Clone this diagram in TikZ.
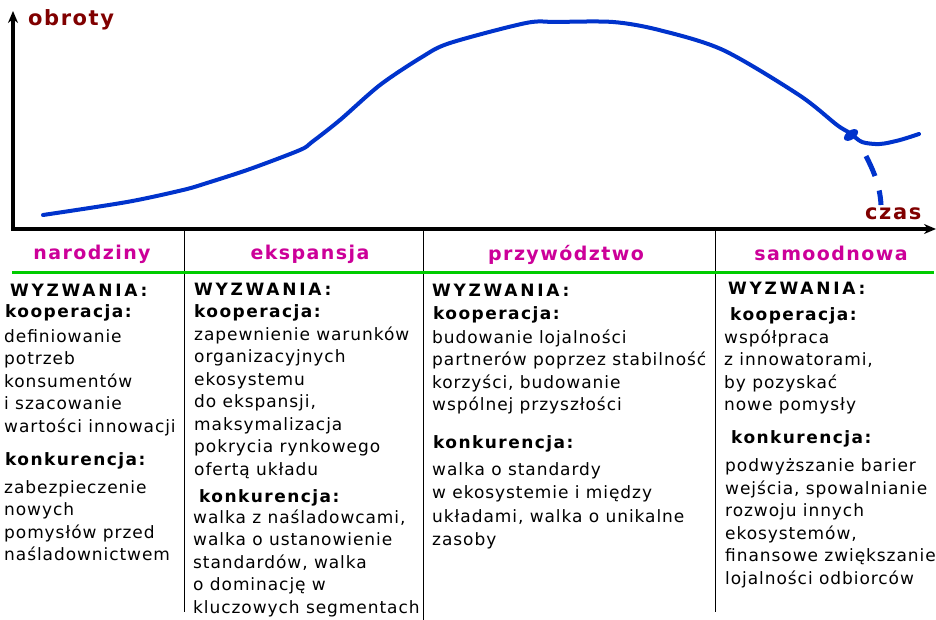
\documentclass[tikz,border=0pt]{standalone}
\usepackage{fontspec}
\usepackage{tikz}
\usetikzlibrary{arrows.meta}
\newfontfamily\bodyfnt{DejaVu Sans}[LetterSpace=5.5]
\newfontfamily\capsfnt{DejaVu Sans}[LetterSpace=16]
\newfontfamily\labelfnt{DejaVu Sans}[LetterSpace=8.5]
\newfontfamily\phasefnt{DejaVu Sans}[LetterSpace=7.5]
\definecolor{curveblue}{RGB}{0,51,204}
\definecolor{axisred}{RGB}{128,0,0}
\definecolor{phasepink}{RGB}{204,0,153}
\definecolor{rulegreen}{RGB}{0,204,0}
\tikzset{
  axislbl/.style={font=\phasefnt\bfseries\fontsize{21}{24}\selectfont,text=axisred,inner sep=0pt,anchor=base west},
  phase/.style={font=\phasefnt\bfseries\fontsize{19}{22}\selectfont,text=phasepink,inner sep=0pt,anchor=base},
  wyzw/.style={font=\capsfnt\bfseries\fontsize{17}{22.5}\selectfont,inner sep=0pt,anchor=base west},
  lbl/.style={font=\labelfnt\bfseries\fontsize{17}{22.5}\selectfont,inner sep=0pt,anchor=base west},
  % multi-line body: placed by the baseline of its last line
  body/.style={font=\bodyfnt\fontsize{17}{22.5}\selectfont,align=left,inner sep=0pt,anchor=base west},
  axis/.style={line width=3.2pt,-{Stealth[length=12pt,width=10pt]}},
  divider/.style={line width=1pt},
}

\begin{document}
\begin{tikzpicture}[x=1pt,y=-1pt]
    \useasboundingbox (0,0) rectangle (936,620);
    \draw[axis] (13,230) -- (13,11);
    \draw[axis] (11.4,229) -- (936,229);
    \node[axislbl] (obroty) at (28,26) {obroty};
    \node[axislbl] (czas) at (865,220) {czas};

    \draw[curveblue,line width=4pt,line cap=round] plot[smooth,tension=0.5] coordinates {
        (43,215) (127,202) (183,190) (207,183) (250,169) (300,150) (312,142)
        (340,120) (380,85) (422,57) (450,43) (526,23) (556,22) (613,22)
        (659,30) (723,50) (799,95) (837,125) (850,133) (862,142) (880,144)
        (900,140) (919,134)};
    \fill[curveblue,rotate around={35:(851,135)}] (851,135) ellipse (8 and 4.5);
    \draw[curveblue,line width=5pt,dash pattern=on 22pt off 15pt]
        (866,156) .. controls (873,170) and (880,185) .. (881,205);

    \draw[divider] (184,229) -- (184,612);
    \draw[divider] (423,229) -- (423,620);
    \draw[divider] (715,229) -- (715,612);
    \draw[rulegreen,line width=3pt] (12,272) -- (934,272);

    \node[phase] (narodziny) at (92,259) {narodziny};
    \node[phase] (ekspansja) at (310,259) {ekspansja};
    \node[phase] (przywodztwo) at (566,261) {przywództwo};
    \node[phase] (samoodnowa) at (831,260) {samoodnowa};

    \node[wyzw] (w1) at (10,296) {WYZWANIA:};
    \node[lbl] (k1) at (5,317) {kooperacja:};
    \node[body] (kb1) at (4,432) {definiowanie\\potrzeb\\konsumentów\\i szacowanie\\wartości innowacji};
    \node[lbl] (c1) at (5,465) {konkurencja:};
    \node[body] (cb1) at (4,560.5) {zabezpieczenie\\nowych\\pomysłów przed\\naśladownictwem};

    \node[wyzw] (w2) at (194,295) {WYZWANIA:};
    \node[lbl] (k2) at (194,317) {kooperacja:};
    \node[body] (kb2) at (194,475) {zapewnienie warunków\\organizacyjnych\\ekosystemu\\do ekspansji,\\maksymalizacja\\pokrycia rynkowego\\ofertą układu};
    \node[lbl] (c2) at (199,502) {konkurencja:};
    \node[body] (cb2) at (193,613) {walka z naśladowcami,\\walka o ustanowienie\\standardów, walka\\o dominację w\\kluczowych segmentach};

    \node[wyzw] (w3) at (432,296) {WYZWANIA:};
    \node[lbl] (k3) at (433,319) {kooperacja:};
    \node[body] (kb3) at (432,410.5) {budowanie lojalności\\partnerów poprzez stabilność\\korzyści, budowanie\\wspólnej przyszłości};
    \node[lbl] (c3) at (433,448) {konkurencja:};
    \node[body,font=\bodyfnt\fontsize{17}{23.5}\selectfont] (cb3) at (432,545.5) {walka o standardy\\w ekosystemie i między\\układami, walka o unikalne\\zasoby};

    \node[wyzw] (w4) at (728,294) {WYZWANIA:};
    \node[lbl] (k4) at (730,320) {kooperacja:};
    \node[body] (kb4) at (724,410.5) {współpraca\\z innowatorami,\\by pozyskać\\nowe pomysły};
    \node[lbl] (c4) at (731,443) {konkurencja:};
    \node[body] (cb4) at (725,584) {podwyższanie barier\\wejścia, spowalnianie\\rozwoju innych\\ekosystemów,\\finansowe zwiększanie\\lojalności odbiorców};
\end{tikzpicture}
\end{document}
